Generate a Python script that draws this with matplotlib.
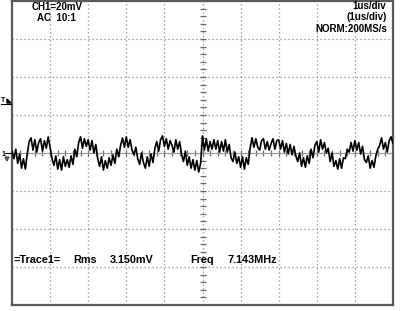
import matplotlib
matplotlib.use("Agg")
import matplotlib.pyplot as plt
import numpy as np

# ---- data (mV vs us) ----
time_step_us = 0.05
trace_mv = [
    1.0, -3.0, 2.0, -5.5, -0.5, -8.0, -3.0, -8.5, -0.5, 6.0,
    8.0, 1.5, 7.0, 0.5, 5.5, 7.5, 1.0, 6.5, 2.5, 8.5,
    3.0, -3.0, -6.5, -1.5, -8.5, -3.5, -9.0, -2.0, -7.0, -3.5,
    -7.5, -1.5, -6.0, 2.0, -2.0, 5.5, 8.5, 2.5, 7.5, 3.5,
    7.0, 1.5, 6.5, 0.0, 4.5, -3.0, -7.0, -2.0, -9.0, -4.0,
    -8.0, -2.5, -6.5, -1.0, -5.5, 2.0, -2.0, 4.0, 8.0, 3.0,
    8.5, 3.0, 7.0, 1.5, -1.0, 3.0, -3.0, -6.0, 0.0, -5.0,
    -8.0, -2.0, -7.0, -0.5, -5.0, 2.5, 6.0, 1.0, 7.0, 9.0,
    3.5, 7.5, 2.0, 6.5, 4.0, 0.5, 7.0, 2.0, 6.0, -0.5,
    -4.5, 1.0, -6.5, -2.0, -8.0, -3.5, -9.0, -4.0, -10.0, -5.5,
    9.0, 1.5, 7.5, 1.0, 6.0, 2.0, 7.0, 2.0, 6.5, 0.5,
    6.0, 1.0, 7.0, 0.5, 4.5, -2.5, -4.5, 0.5, -5.5, -2.0,
    -7.5, -2.0, -8.5, -2.5, -6.0, 2.5, 8.0, 3.0, 7.5, 3.0,
    1.5, 6.5, 7.5, 2.0, 6.0, 1.5, 5.0, 7.5, 2.0, 6.5,
    7.0, 2.0, 6.5, 0.5, 5.0, -0.5, 4.5, -1.0, 3.5, -1.5,
    -4.5, 0.0, -7.0, -2.5, -7.5, -1.5, -5.5, 2.0, -2.5, 4.0,
    6.0, 0.5, 7.0, 2.0, 5.5, 0.0, 2.5, -4.5, 0.0, -7.0,
    -4.0, -8.5, -3.0, -8.0, -2.5, -3.0, 2.0, 0.5, 5.5, 1.0,
    6.5, 1.5, 5.5, -0.5, 3.5, -3.5, -5.0, -1.5, -8.0, -4.0,
    -7.5, -1.5, 2.0, 4.0, 8.0, 2.0, 5.5, 0.5, 6.5, 8.5, 5.0,
]
volts_per_div = 20.0   # mV/div
time_per_div = 1.0     # us/div
n_xdiv = 10
n_ydiv = 8

header_left = ["CH1=20mV", "AC  10:1"]
header_right = ["1us/div", "(1us/div)", "NORM:200MS/s"]
meas_labels = ["=Trace1=", "Rms", "3.150mV", "Freq", "7.143MHz"]

t = np.arange(len(trace_mv)) * time_step_us

W, H = 400, 311
fig = plt.figure(figsize=(W / 100, H / 100), dpi=100)
fig.patch.set_facecolor("white")
L, R, T, B = 12, 393, 1, 305
ax = fig.add_axes([L / W, 1 - B / H, (R - L) / W, (B - T) / H])
ax.set_xlim(0, n_xdiv * time_per_div)
ymax = n_ydiv / 2 * volts_per_div
ax.set_ylim(-ymax, ymax)
ax.set_xticks([]); ax.set_yticks([])
for s in ax.spines.values():
    s.set_color("#5a5a5a"); s.set_linewidth(1.6)

grid_kw = dict(color="#8a8a8a", lw=0.9, ls=(0, (1, 2.2)), zorder=1)
for i in range(1, n_xdiv):
    ax.axvline(i * time_per_div, **grid_kw)
for j in range(1, n_ydiv):
    ax.axhline(-ymax + j * volts_per_div, **grid_kw)

# centre cross minor ticks
xc = n_xdiv / 2 * time_per_div
minor_y = np.arange(-ymax, ymax + 1e-9, volts_per_div / 5)
ax.plot(np.full_like(minor_y, xc), minor_y, ls="none", marker="_", ms=4,
        mew=0.9, color="#6a6a6a", zorder=1)
minor_x = np.arange(0, n_xdiv * time_per_div + 1e-9, time_per_div / 5)
ax.plot(minor_x, np.zeros_like(minor_x), ls="none", marker="|", ms=4,
        mew=0.9, color="#6a6a6a", zorder=1)
ax.axhline(0, color="#9a9a9a", lw=0.8, zorder=1)

ax.plot(t, trace_mv, color="black", lw=1.2, zorder=3)

fkw = dict(family="Liberation Sans", fontsize=7, color="black",
           fontweight="bold")

def px(x, y):
    return x / W, 1 - y / H

fig.text(*px(32, 7), header_left[0], va="center", ha="left", **fkw)
fig.text(*px(37, 18), header_left[1], va="center", ha="left", **fkw)
fig.text(*px(386, 6), header_right[0], va="center", ha="right", **fkw)
fig.text(*px(387, 17), header_right[1], va="center", ha="right", **fkw)
fig.text(*px(387, 29), header_right[2], va="center", ha="right", **fkw)

mkw = dict(fkw)
mkw["fontsize"] = 7.8
meas_x = [13, 73, 110, 190, 228]
for x, s in zip(meas_x, meas_labels):
    fig.text(*px(x, 260), s, va="center", ha="left", **mkw)

# left side markers (trigger level, channel ground)
fig.text(*px(1, 101), "T", va="center", ha="left", family="Liberation Sans",
         fontsize=5, fontweight="bold")
fig.add_artist(plt.Line2D([1 / W, 11 / W], [1 - 104 / H] * 2, color="black", lw=0.8))
fig.add_artist(plt.Polygon([px(7, 99), px(11, 103), px(7, 103)], color="black"))
fig.text(*px(2, 155), "1", va="center", ha="left", family="Liberation Sans",
         fontsize=5, fontweight="bold")
fig.add_artist(plt.Line2D([5 / W, 11 / W], [1 - 153 / H] * 2, color="black", lw=0.8))
fig.add_artist(plt.Polygon([px(5, 157), px(9, 157), px(7, 161)], color="#555555"))

fig.savefig("out.png", dpi=100, facecolor="white")
